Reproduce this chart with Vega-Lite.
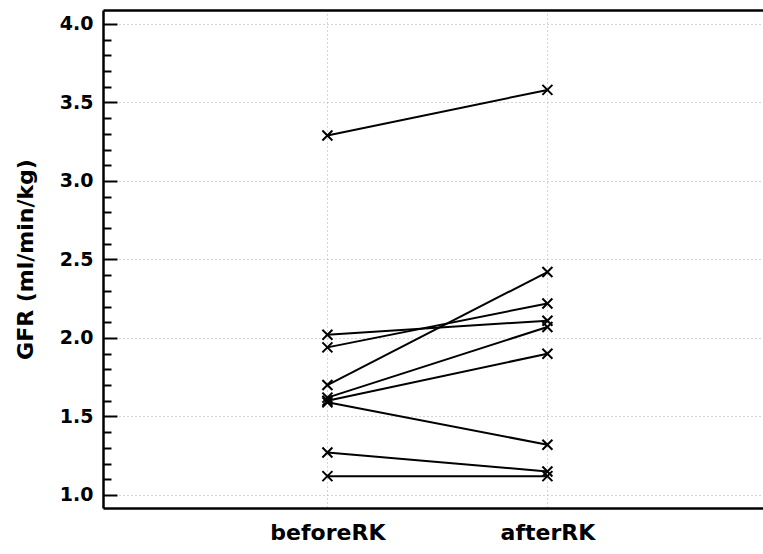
{
  "$schema": "https://vega.github.io/schema/vega-lite/v6.json",
  "autosize": {"type": "none"},
  "padding": {"left": 103, "top": 10, "right": 0, "bottom": 46},
  "width": 660,
  "height": 498,
  "background": "white",
  "config": {
    "view": {"stroke": null},
    "font": "DejaVu Sans"
  },
  "data": {
    "values": [
      {"id": 1, "time": "beforeRK", "gfr": 3.29},
      {"id": 1, "time": "afterRK", "gfr": 3.58},
      {"id": 2, "time": "beforeRK", "gfr": 2.02},
      {"id": 2, "time": "afterRK", "gfr": 2.11},
      {"id": 3, "time": "beforeRK", "gfr": 1.94},
      {"id": 3, "time": "afterRK", "gfr": 2.22},
      {"id": 4, "time": "beforeRK", "gfr": 1.70},
      {"id": 4, "time": "afterRK", "gfr": 2.42},
      {"id": 5, "time": "beforeRK", "gfr": 1.62},
      {"id": 5, "time": "afterRK", "gfr": 2.07},
      {"id": 6, "time": "beforeRK", "gfr": 1.60},
      {"id": 6, "time": "afterRK", "gfr": 1.90},
      {"id": 7, "time": "beforeRK", "gfr": 1.59},
      {"id": 7, "time": "afterRK", "gfr": 1.32},
      {"id": 8, "time": "beforeRK", "gfr": 1.27},
      {"id": 8, "time": "afterRK", "gfr": 1.15},
      {"id": 9, "time": "beforeRK", "gfr": 1.12},
      {"id": 9, "time": "afterRK", "gfr": 1.12}
    ]
  },
  "resolve": {"axis": {"x": "independent", "y": "independent"}},
  "layer": [
    {
      "mark": {"type": "line", "color": "black", "strokeWidth": 2},
      "encoding": {
        "x": {
          "field": "time", "type": "nominal", "sort": null,
          "scale": {"type": "point", "domain": ["beforeRK", "afterRK"], "padding": 1.035, "align": 0.51},
          "axis": {
            "orient": "bottom", "title": null, "labelAngle": 0,
            "labelFont": "DejaVu Sans", "labelFontWeight": "bold", "labelFontSize": 22, "labelColor": "black",
            "labelPadding": 14, "ticks": false,
            "domain": true, "domainColor": "black", "domainWidth": 2.5,
            "grid": true, "gridColor": "#aaaaaa", "gridDash": [1, 3], "gridWidth": 1
          }
        },
        "y": {
          "field": "gfr", "type": "quantitative",
          "scale": {"domain": [0.917, 4.089], "nice": false, "zero": false},
          "axis": {
            "orient": "left", "offset": -14,
            "title": "GFR (ml/min/kg)", "titleFont": "DejaVu Sans", "titleFontWeight": "bold", "titleFontSize": 22, "titleColor": "black", "titlePadding": 22,
            "values": [1.0, 1.5, 2.0, 2.5, 3.0, 3.5, 4.0],
            "format": ".1f",
            "labelFont": "DejaVu Sans", "labelFontWeight": "bold", "labelFontSize": 19, "labelColor": "black",
            "ticks": true, "tickSize": 14, "tickColor": "black", "tickWidth": 2, "labelPadding": 10,
            "domain": false,
            "grid": true, "gridColor": "#aaaaaa", "gridDash": [1, 3], "gridWidth": 1
          }
        },
        "detail": {"field": "id", "type": "nominal"}
      }
    },
    {
      "mark": {"type": "point", "shape": "M-1,-1L1,1M-1,1L1,-1", "filled": false, "stroke": "black", "strokeWidth": 2, "size": 100, "opacity": 1},
      "encoding": {
        "x": {
          "field": "time", "type": "nominal", "sort": null,
          "scale": {"type": "point", "domain": ["beforeRK", "afterRK"], "padding": 1.035, "align": 0.51},
          "axis": {
            "orient": "top", "title": null, "labels": false, "ticks": false, "grid": false,
            "domain": true, "domainColor": "black", "domainWidth": 2.5
          }
        },
        "y": {
          "field": "gfr", "type": "quantitative",
          "scale": {"domain": [0.917, 4.089], "nice": false, "zero": false},
          "axis": {
            "orient": "left", "title": null, "labels": false, "grid": false,
            "values": [1.0, 4.0],
            "ticks": false, "tickSize": 0,
            "domain": true, "domainColor": "black", "domainWidth": 2.5
          }
        }
      }
    },
    {
      "mark": {"type": "point", "opacity": 0},
      "encoding": {
        "x": {
          "field": "time", "type": "nominal", "sort": null,
          "scale": {"type": "point", "domain": ["beforeRK", "afterRK"], "padding": 1.035, "align": 0.51},
          "axis": null
        },
        "y": {
          "field": "gfr", "type": "quantitative",
          "scale": {"domain": [0.917, 4.089], "nice": false, "zero": false},
          "axis": {
            "orient": "left", "offset": -8, "title": null,
            "labels": false, "grid": false, "domain": false,
            "values": [1.1, 1.2, 1.3, 1.4, 1.6, 1.7, 1.8, 1.9, 2.1, 2.2, 2.3, 2.4, 2.6, 2.7, 2.8, 2.9, 3.1, 3.2, 3.3, 3.4, 3.6, 3.7, 3.8, 3.9],
            "ticks": true, "tickSize": 8, "tickColor": "black", "tickWidth": 2
          }
        }
      }
    }
  ]
}
